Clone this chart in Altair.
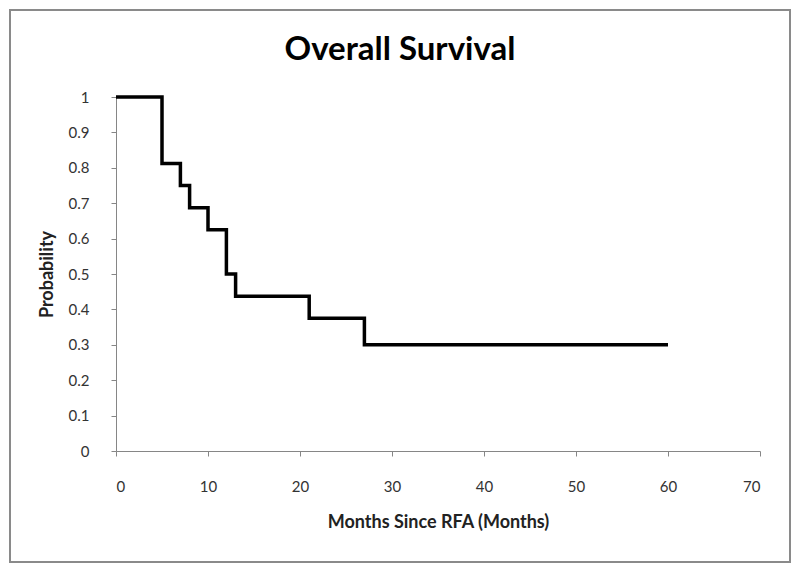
import altair as alt
import pandas as pd

# Kaplan-Meier step data
months = [0, 5, 7, 8, 10, 12, 13, 21, 27, 60]
survival = [1.0, 0.8125, 0.75, 0.6875, 0.625, 0.5, 0.4375, 0.375, 0.3, 0.3]
x_ticks = [0, 10, 20, 30, 40, 50, 60, 70]
y_ticks = [0, 0.1, 0.2, 0.3, 0.4, 0.5, 0.6, 0.7, 0.8, 0.9, 1.0]

df = pd.DataFrame({"Months": months, "Probability": survival})

FONT = "Lato"
W, H = 644, 354

line = alt.Chart(df).mark_line(
    interpolate="step-after", color="black", strokeWidth=3.5
).encode(
    x=alt.X("Months:Q",
            scale=alt.Scale(domain=[0, 70], nice=False),
            axis=alt.Axis(values=x_ticks, title="Months Since RFA (Months)",
                          grid=False, domainColor="#868686", tickColor="#868686",
                          tickSize=5, labelPadding=23, labelFontSize=15,
                          labelColor="#333333", labelFont=FONT,
                          titleFont=FONT, titleFontSize=18, titleFontWeight="bold",
                          titleColor="#222222", titleY=71, titleBaseline="middle")),
    y=alt.Y("Probability:Q",
            scale=alt.Scale(domain=[0, 1], nice=False),
            axis=alt.Axis(values=y_ticks, format="~g", title="Probability",
                          grid=False, domainColor="#868686", tickColor="#868686",
                          tickSize=5, labelPadding=22, labelFontSize=15,
                          labelColor="#333333", labelFont=FONT,
                          titleFont=FONT, titleFontSize=18, titleFontWeight="bold",
                          titleColor="#222222", titleX=-69, titleBaseline="middle")),
)

frame = alt.Chart(df).mark_rect(
    fill=None, stroke="#8a8a8a", strokeWidth=2
).encode(
    x=alt.value(-106), x2=alt.value(674), y=alt.value(-87), y2=alt.value(465)
)

chart = alt.layer(frame, line).properties(
    width=W, height=H,
    title=alt.TitleParams("Overall Survival", font=FONT, fontSize=33,
                          fontWeight="bold", color="black", anchor="middle",
                          baseline="alphabetic", dx=-38, offset=-84),
    autosize=alt.AutoSizeParams(type="none"),
    padding={"left": 108, "top": 89, "right": 32, "bottom": 112},
).configure_view(stroke=None)

chart.save("out.html", embed_options={"renderer": "svg", "actions": False})
